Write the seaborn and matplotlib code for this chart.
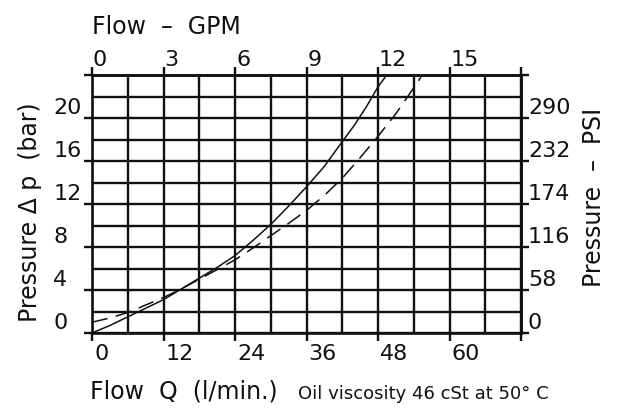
import matplotlib
matplotlib.use("Agg")
import matplotlib.pyplot as plt
import matplotlib.transforms as mtransforms
import seaborn as sns
import numpy as np

# ---- data (flow in l/min, pressure drop in bar)
flow_solid = [0, 3, 6, 9, 12, 15, 18, 21, 24, 27, 30, 33, 36, 39, 42, 44, 46, 48, 49.2]
dp_solid = [0, 0.7, 1.5, 2.3, 3.1, 4.1, 5.1, 6.1, 7.2, 8.6, 10.1, 11.8, 13.6, 15.5, 17.8, 19.3, 21.0, 22.9, 23.8]

flow_dashed = [0, 3, 6, 9, 12, 15, 18, 21, 24, 27, 30, 33, 36, 39, 42, 45, 48, 51, 53, 55.2]
dp_dashed = [1.0, 1.4, 1.9, 2.6, 3.3, 4.1, 5.0, 5.9, 6.8, 7.9, 9.05, 10.2, 11.4, 12.8, 14.4, 16.3, 18.3, 20.4, 22.0, 23.8]

lpm_ticks = [0, 12, 24, 36, 48, 60, 72]
lpm_labels = ["0", "12", "24", "36", "48", "60", ""]
gpm_ticks = [0, 3, 6, 9, 12, 15, 18]
gpm_labels = ["0", "3", "6", "9", "12", "15", ""]
bar_ticks = [0, 4, 8, 12, 16, 20, 24]
bar_labels = ["0", "4", "8", "12", "16", "20", ""]
psi_ticks = [0, 58, 116, 174, 232, 290, 348]
psi_labels = ["0", "58", "116", "174", "232", "290", ""]

sns.set_style("white")
plt.rcParams["font.family"] = ["DejaVu Sans"]

W, H = 621, 417
INK = "#111111"
fig = plt.figure(figsize=(W / 100, H / 100), dpi=100)
ax = fig.add_axes([92 / W, 1 - 333 / H, 429 / W, 258 / H])

LW = 1.7   # grid / frame width in points
TL = 5.5   # tick length
FS = 16    # tick label size

sns.lineplot(x=flow_solid, y=dp_solid, ax=ax, color=INK, linewidth=1.1, sort=False)
sns.lineplot(x=flow_dashed, y=dp_dashed, ax=ax, color=INK, linewidth=1.1,
             sort=False, dashes=False, linestyle=(0, (10.5, 5.5)))

ax.set_xlim(0, 72)
ax.set_ylim(0, 24)
ax.set_xlabel("")
ax.set_ylabel("")

# grid: every 6 l/min and every 2 bar
ax.set_xticks(lpm_ticks)
ax.set_xticks(np.arange(0, 73, 6), minor=True)
ax.set_yticks(bar_ticks)
ax.set_yticks(np.arange(0, 25, 2), minor=True)
ax.grid(True, which="both", color=INK, linewidth=LW)
ax.set_axisbelow(True)
for s in ax.spines.values():
    s.set_visible(True)
    s.set_color(INK)
    s.set_linewidth(LW + 0.2)

ax.tick_params(which="minor", length=0)
ax.tick_params(which="major", direction="out", length=TL, width=LW, color=INK,
               labelsize=FS, labelcolor=INK)
ax.tick_params(axis="x", bottom=True, top=False, pad=2.5)
ax.tick_params(axis="y", left=True, right=False, pad=22.5)
ax.set_xticklabels(lpm_labels)
ax.set_yticklabels(bar_labels)

dpi_scale = fig.dpi_scale_trans
for lab in ax.get_xticklabels():
    lab.set_horizontalalignment("left")
    lab.set_transform(lab.get_transform() + mtransforms.ScaledTranslation(2 / 100, 0, dpi_scale))
for lab in ax.get_yticklabels():
    lab.set_horizontalalignment("left")
    lab.set_verticalalignment("bottom")

# top axis in GPM (4 l/min per GPM on this chart)
top = ax.secondary_xaxis("top", functions=(lambda q: q / 4.0, lambda g: g * 4.0))
top.set_xticks(gpm_ticks)
top.set_xticklabels(gpm_labels)
top.tick_params(direction="out", length=TL, width=LW, color=INK, labelsize=FS,
                labelcolor=INK, pad=-2)
top.spines["top"].set_linewidth(LW + 0.2)
for lab in top.get_xticklabels():
    lab.set_horizontalalignment("left")
    lab.set_transform(lab.get_transform() + mtransforms.ScaledTranslation(1 / 100, 0, dpi_scale))

# right axis in PSI
right = ax.secondary_yaxis("right", functions=(lambda b: b * 14.5, lambda p: p / 14.5))
right.set_yticks(psi_ticks)
right.set_yticklabels(psi_labels)
right.tick_params(direction="out", length=TL, width=LW, color=INK, labelsize=FS,
                  labelcolor=INK, pad=-0.5)
right.spines["right"].set_linewidth(LW + 0.2)
for lab in right.get_yticklabels():
    lab.set_verticalalignment("bottom")

# axis titles
fig.text(92 / W, 1 - 34 / H, "Flow  \u2013  GPM", fontsize=17, color=INK,
         ha="left", va="baseline")
fig.text(90 / W, 1 - 398 / H, "Flow  Q  (l/min.)", fontsize=17, color=INK,
         ha="left", va="baseline")
fig.text(298 / W, 1 - 399 / H, "Oil viscosity 46 cSt at 50\u00b0 C", fontsize=13,
         color=INK, ha="left", va="baseline")
fig.text(30 / W, 1 - 212 / H, "Pressure \u0394 p  (bar)", fontsize=17, color=INK,
         rotation=90, ha="center", va="center")
fig.text(594 / W, 1 - 197 / H, "Pressure  \u2013  PSI", fontsize=17, color=INK,
         rotation=90, ha="center", va="center")

fig.savefig("out.png", dpi=100, facecolor="white")
